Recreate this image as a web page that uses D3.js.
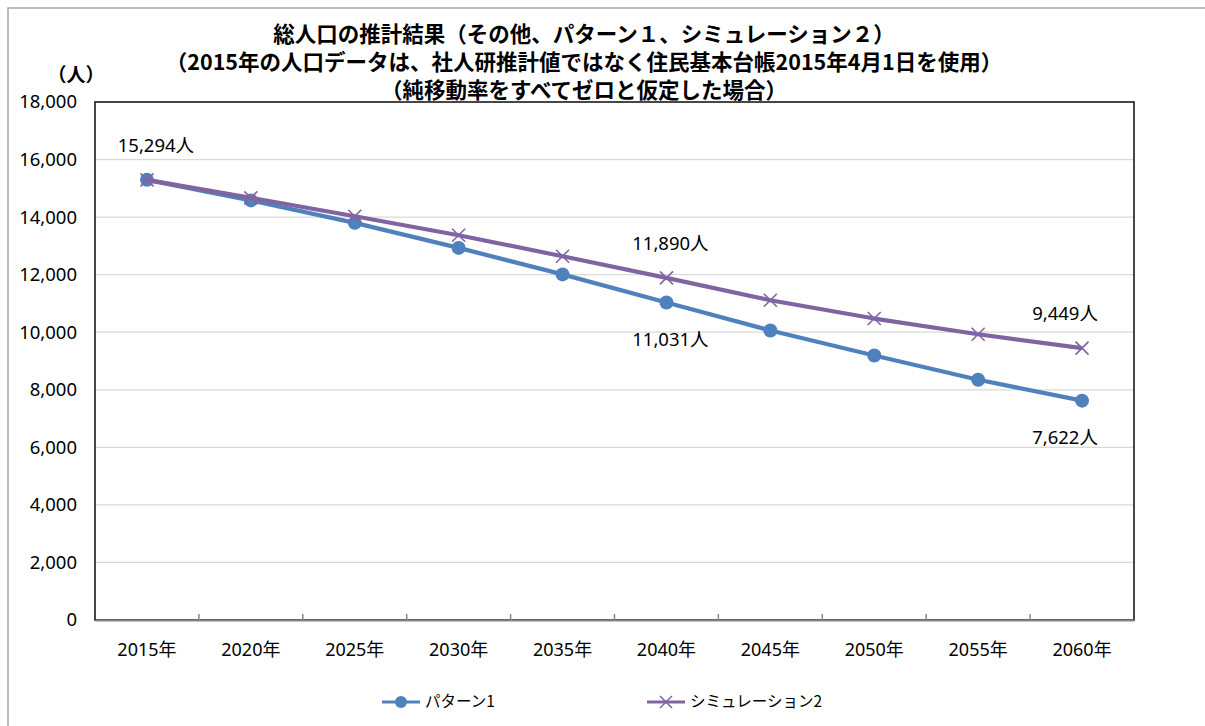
<!DOCTYPE html>
<html>
<head>
<meta charset="utf-8">
<script src="https://cdn.jsdelivr.net/npm/d3@7"></script>
<style>
  html, body { margin: 0; padding: 0; background: #fff; }
  svg { display: block; }
</style>
</head>
<body>
<svg id="chart" width="1205" height="726"></svg>
<script>
// ---- data ----
const years = ["2015年","2020年","2025年","2030年","2035年","2040年","2045年","2050年","2055年","2060年"];
const pattern1 = [15294, 14580, 13800, 12930, 12010, 11031, 10060, 9190, 8350, 7622];
const simulation2 = [15294, 14670, 14030, 13370, 12640, 11890, 11110, 10475, 9930, 9449];
const seriesNames = ["パターン1", "シミュレーション2"];
const yTicks = [0, 2000, 4000, 6000, 8000, 10000, 12000, 14000, 16000, 18000];
const titleLines = [
  "総人口の推計結果（その他、パターン１、シミュレーション２）",
  "（2015年の人口データは、社人研推計値ではなく住民基本台帳2015年4月1日を使用）",
  "（純移動率をすべてゼロと仮定した場合）"
];
const unitLabel = "（人）";
// data labels: which series / which year index / above or below
const dataLabels = [
  {series: 0, index: 0, pos: "above"},
  {series: 1, index: 5, pos: "above"},
  {series: 0, index: 5, pos: "below"},
  {series: 1, index: 9, pos: "above"},
  {series: 0, index: 9, pos: "below"}
];

// ---- layout / style ----
const colors = ["#4F81BD", "#8064A2"];
const plot = {left: 95, right: 1134, top: 102, bottom: 620};
const numFont = "'Noto Sans', 'Noto Sans CJK JP', sans-serif";
const jpFont = "'Noto Sans CJK JP', 'Noto Sans', sans-serif";

const svg = d3.select("#chart");

// outer frame
svg.append("rect")
  .attr("x", 8).attr("y", 8).attr("width", 1400).attr("height", 900)
  .attr("fill", "#fff").attr("stroke", "#a6a6a6").attr("stroke-width", 1.5);

const x = d3.scaleBand().domain(years).range([plot.left, plot.right]);
const y = d3.scaleLinear().domain([0, 18000]).range([plot.bottom, plot.top]);
const cx = d => x(d) + x.bandwidth() / 2;

// gridlines
svg.append("g")
  .selectAll("line").data(yTicks.filter(t => t > 0 && t < 18000)).join("line")
  .attr("x1", plot.left).attr("x2", plot.right)
  .attr("y1", d => y(d)).attr("y2", d => y(d))
  .attr("stroke", "#d9d9d9").attr("stroke-width", 1.2);

// plot border
svg.append("rect")
  .attr("x", plot.left).attr("y", plot.top)
  .attr("width", plot.right - plot.left).attr("height", plot.bottom - plot.top)
  .attr("fill", "none").attr("stroke", "#1a1a1a").attr("stroke-width", 1.6);

// y axis labels
const yAxis = d3.axisLeft(y).tickValues(yTicks).tickSize(0).tickPadding(18)
  .tickFormat(d3.format(","));
const gy = svg.append("g").attr("transform", `translate(${plot.left},0)`).call(yAxis);
gy.select(".domain").remove();
gy.selectAll("text")
  .attr("font-family", numFont).attr("font-size", 18.5).attr("fill", "#000");

// x axis
const xAxis = d3.axisBottom(x).tickSize(0).tickPadding(23);
const gx = svg.append("g").attr("transform", `translate(0,${plot.bottom})`).call(xAxis);
gx.select(".domain").attr("stroke", "#868686").attr("stroke-width", 2);
gx.selectAll("text")
  .attr("font-family", numFont).attr("font-size", 18).attr("fill", "#000");
// category boundary ticks (inside)
svg.append("g")
  .selectAll("line").data(years.slice(1)).join("line")
  .attr("x1", d => x(d)).attr("x2", d => x(d))
  .attr("y1", plot.bottom).attr("y2", plot.bottom - 6)
  .attr("stroke", "#868686").attr("stroke-width", 1.5);

// lines
const allSeries = [pattern1, simulation2];
const line = d3.line().x((d, i) => cx(years[i])).y(d => y(d));
allSeries.forEach((s, si) => {
  svg.append("path").datum(s)
    .attr("d", line).attr("fill", "none")
    .attr("stroke", colors[si]).attr("stroke-width", 4.2)
    .attr("stroke-linejoin", "round");
  if (si === 0) {
    svg.append("g").selectAll("circle").data(s).join("circle")
      .attr("cx", (d, i) => cx(years[i])).attr("cy", d => y(d))
      .attr("r", 7).attr("fill", colors[0]);
  } else {
    const m = 6.5;
    svg.append("g").selectAll("path").data(s).join("path")
      .attr("d", (d, i) => {
        const px = cx(years[i]), py = y(d);
        return `M${px - m},${py - m}L${px + m},${py + m}M${px - m},${py + m}L${px + m},${py - m}`;
      })
      .attr("stroke", colors[1]).attr("stroke-width", 1.6).attr("fill", "none");
  }
});

// data labels
const fmt = d3.format(",");
svg.append("g").selectAll("text").data(dataLabels).join("text")
  .attr("x", d => {
    const px = cx(years[d.index]);
    if (d.index === years.length - 1) return px - 17;
    if (d.index === 0) return px + 9;
    return px + 4;
  })
  .attr("y", d => {
    const py = y(allSeries[d.series][d.index]);
    return d.pos === "above" ? py - 28 : py + 43;
  })
  .attr("text-anchor", "middle")
  .attr("font-family", numFont).attr("font-size", 18.5).attr("fill", "#000")
  .text(d => fmt(allSeries[d.series][d.index]) + "人");

// title
svg.append("g").selectAll("text").data(titleLines).join("text")
  .attr("x", 584).attr("y", (d, i) => 42 + i * 28)
  .attr("text-anchor", "middle")
  .attr("font-family", jpFont).attr("font-weight", "bold")
  .attr("font-size", 21.5).attr("fill", "#000")
  .text(d => d);

// unit label
svg.append("text")
  .attr("x", 76).attr("y", 82).attr("text-anchor", "middle")
  .attr("font-family", jpFont).attr("font-weight", "bold")
  .attr("font-size", 19).attr("fill", "#000")
  .text(unitLabel);

// legend
const legendX = [382, 647];
const legendY = 702;
seriesNames.forEach((name, si) => {
  const g = svg.append("g").attr("transform", `translate(${legendX[si]},${legendY})`);
  g.append("line").attr("x1", 0).attr("x2", 38).attr("y1", 0).attr("y2", 0)
    .attr("stroke", colors[si]).attr("stroke-width", 3);
  if (si === 0) {
    g.append("circle").attr("cx", 19).attr("cy", 0).attr("r", 6).attr("fill", colors[0]);
  } else {
    const m = 6;
    g.append("path").attr("d", `M${19 - m},${-m}L${19 + m},${m}M${19 - m},${m}L${19 + m},${-m}`)
      .attr("stroke", colors[1]).attr("stroke-width", 1.5);
  }
  g.append("text").attr("x", 43).attr("y", 0).attr("dy", "0.35em")
    .attr("font-family", jpFont).attr("font-size", 15.5).attr("fill", "#000")
    .text(name);
});
</script>
</body>
</html>
